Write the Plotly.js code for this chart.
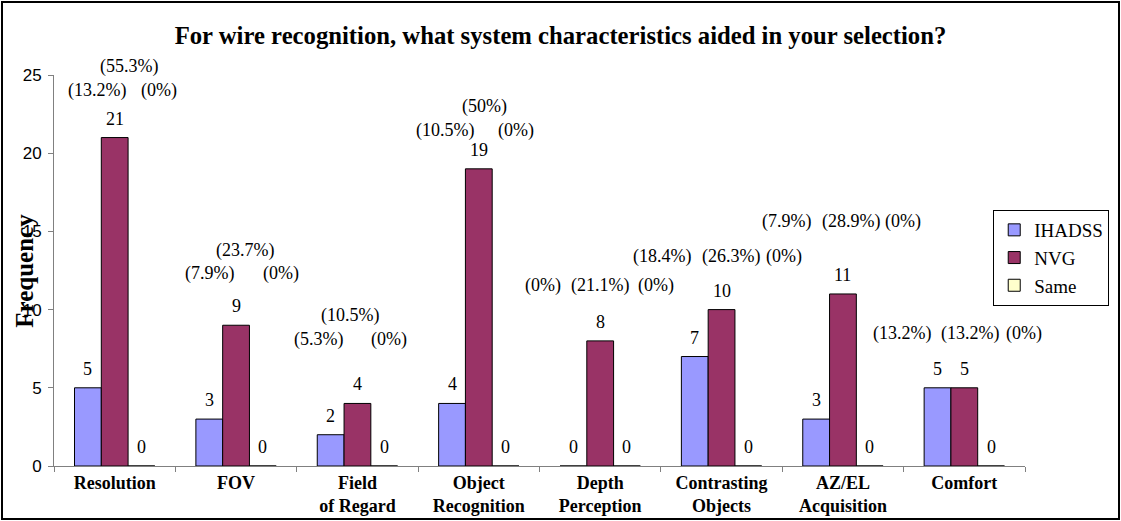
<!DOCTYPE html>
<html>
<head>
<meta charset="utf-8">
<script src="https://cdn.plot.ly/plotly-3.0.1.min.js"></script>
<style>
  html, body { margin: 0; padding: 0; background: #fff; }
  #wrap { position: relative; width: 1121px; height: 521px; }
  #chart { width: 1121px; height: 521px; }
  #frame { position: absolute; left: 1px; top: 1px; width: 1115px; height: 515px;
           border: 2px solid #000; pointer-events: none; }
</style>
</head>
<body>
<div id="wrap">
  <div id="chart"></div>
  <div id="frame"></div>
</div>
<script>
// ---- data ----
const categories = ['Resolution', 'FOV', 'Field<br>of Regard', 'Object<br>Recognition',
                    'Depth<br>Perception', 'Contrasting<br>Objects', 'AZ/EL<br>Acquisition', 'Comfort'];
const seriesNames = ['IHADSS', 'NVG', 'Same'];
const ihadss = [5, 3, 2, 4, 0, 7, 3, 5];
const nvg    = [21, 9, 4, 19, 8, 10, 11, 5];
const same   = [0, 0, 0, 0, 0, 0, 0, 0];
const ihadssPct = ['(13.2%)', '(7.9%)', '(5.3%)', '(10.5%)', '(0%)', '(18.4%)', '(7.9%)', '(13.2%)'];
const nvgPct    = ['(55.3%)', '(23.7%)', '(10.5%)', '(50%)', '(21.1%)', '(26.3%)', '(28.9%)', '(13.2%)'];
const samePct   = ['(0%)', '(0%)', '(0%)', '(0%)', '(0%)', '(0%)', '(0%)', '(0%)'];
const yTicks = [0, 5, 10, 15, 20, 25];

// ---- label placement (layout only, in y-axis units / category units) ----
const pctSideY = [24.04, 12.32, 8.06, 21.48, 11.57, 13.38, 15.62, 8.50];
const pctTopY  = [25.53, 13.81, 9.65, 22.97, 11.57, 13.38, 15.62, 8.50];
const pctDxL = [-0.147, -0.221, -0.324, -0.278, -0.47, -0.490, -0.466, -0.515];
const pctDxM = [0.114, 0.077, -0.062, 0.049, 0.0, 0.078, 0.065, 0.049];
const pctDxR = [0.364, 0.368, 0.259, 0.310, 0.458, 0.511, 0.498, 0.490];

const colors = ['#9999FF', '#993366', '#FFFFCC'];
const serif = 'Liberation Serif, Times New Roman, serif';
const sans = 'Liberation Sans, Arial, sans-serif';
const yMax = 25;

const allSeries = [ihadss, nvg, same];
const traces = allSeries.map((vals, s) => ({
  type: 'bar',
  name: seriesNames[s],
  x: categories,
  y: vals,
  marker: { color: colors[s], line: { color: '#000', width: 1 } },
  hoverinfo: 'x+y+name'
}));

const bargap = 0.338;
const barOffset = (1 - bargap) / 3; // width of one bar in category units
const annotations = [];
allSeries.forEach((vals, s) => {
  vals.forEach((v, i) => {
    annotations.push({
      x: i + (s - 1) * barOffset, y: v, xref: 'x', yref: 'y',
      text: String(v), showarrow: false, yanchor: 'middle', yshift: 19,
      font: { family: serif, size: 18, color: '#000' }
    });
  });
});
categories.forEach((c, i) => {
  [[ihadssPct[i], pctDxL[i], pctSideY[i]],
   [nvgPct[i], pctDxM[i], pctTopY[i]],
   [samePct[i], pctDxR[i], pctSideY[i]]].forEach(([t, dx, y]) => {
    annotations.push({
      x: i + dx, y: y / yMax, xref: 'x', yref: 'paper', text: t, showarrow: false,
      xanchor: 'center', yanchor: 'middle',
      font: { family: serif, size: 18, color: '#000' }
    });
  });
});
annotations.push({
  xref: 'paper', yref: 'paper', x: (24 - 54) / 980, y: 0.5,
  text: '<b>Frequency</b>', textangle: -90, showarrow: false,
  xanchor: 'center', yanchor: 'middle',
  font: { family: serif, size: 25, color: '#000' }
});

const layout = {
  width: 1121, height: 521,
  margin: { l: 54, r: 87, t: 75, b: 55, pad: 0 },
  paper_bgcolor: '#fff', plot_bgcolor: '#fff',
  barmode: 'group', bargap: bargap, bargroupgap: 0,
  title: {
    text: '<b>For wire recognition, what system characteristics aided in your selection?</b>',
    x: 0.5, xref: 'container', y: 1 - 35 / 521, yref: 'container', yanchor: 'middle',
    font: { family: serif, size: 24.7, color: '#000' }
  },
  xaxis: {
    type: 'category', range: [-0.5, 7.5], showgrid: false, zeroline: false,
    showline: true, linecolor: '#808080', linewidth: 1,
    ticks: 'outside', tickson: 'boundaries', ticklen: 5, tickcolor: '#808080',
    tickfont: { family: serif, size: 18, color: '#000', weight: 'bold' },
    fixedrange: true
  },
  yaxis: {
    range: [0, yMax], tickvals: yTicks, ticktext: yTicks.map(String),
    showgrid: false, zeroline: false,
    showline: true, linecolor: '#808080', linewidth: 1,
    ticks: 'outside', ticklen: 5, tickcolor: '#808080',
    tickfont: { family: sans, size: 17, color: '#000' },
    ticklabelstandoff: 3,
    fixedrange: true
  },
  legend: {
    x: (1119 - 54) / 980, xanchor: 'right', xref: 'paper',
    y: (466 - 210) / 391, yanchor: 'top', yref: 'paper',
    bgcolor: '#fff', bordercolor: '#000', borderwidth: 1,
    font: { family: serif, size: 19, color: '#000' },
    tracegroupgap: 0
  },
  showlegend: true,
  annotations: annotations
};

Plotly.newPlot('chart', traces, layout, { displayModeBar: false });
</script>
</body>
</html>
